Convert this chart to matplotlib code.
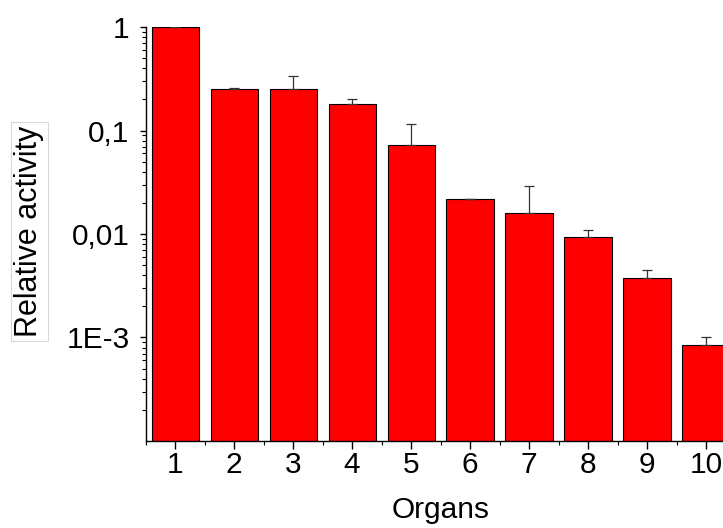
import numpy as np
import matplotlib
matplotlib.use('Agg')
import matplotlib.pyplot as plt
from matplotlib.ticker import FixedLocator, FixedFormatter, LogLocator, NullFormatter

plt.rcParams['font.family'] = ['Liberation Sans', 'DejaVu Sans']

organs = [1, 2, 3, 4, 5, 6, 7, 8, 9, 10]
activity = [1.0, 0.252, 0.25, 0.179, 0.0729, 0.0216, 0.0158, 0.00929, 0.00373, 0.000851]
activity_err = [0.0, 0.007, 0.084, 0.022, 0.0435, 0.0003, 0.0131, 0.00157, 0.00073, 0.000159]

y_ticks = [1e-3, 1e-2, 1e-1, 1]
y_tick_labels = ['1E-3', '0,01', '0,1', '1']

fig = plt.figure(figsize=(7.23, 5.28), dpi=100)
ax = fig.add_axes([0.2015, 0.1648, 0.8158, 0.784])

lower = np.zeros(len(activity))
ax.bar(organs, activity, width=0.8, color='#ff0000', edgecolor='black',
       linewidth=0.8, zorder=2)
ax.errorbar(organs, activity, yerr=[lower, activity_err], fmt='none',
            ecolor='#333333', elinewidth=0.9, capsize=3.4, capthick=0.9,
            zorder=3)

ax.set_yscale('log')
ax.set_ylim(1e-4, 1)
ax.set_xlim(0.5, 10.5)

ax.yaxis.set_major_locator(FixedLocator(y_ticks))
ax.yaxis.set_major_formatter(FixedFormatter(y_tick_labels))
ax.yaxis.set_minor_locator(LogLocator(base=10, subs=np.arange(2, 10)))
ax.yaxis.set_minor_formatter(NullFormatter())

ax.set_xticks(organs)
ax.set_xticks(np.arange(0.5, 11, 1.0), minor=True)

for side in ['top', 'right']:
    ax.spines[side].set_visible(False)
for side in ['left', 'bottom']:
    ax.spines[side].set_linewidth(1.0)

ax.tick_params(axis='y', which='major', direction='out', length=4.5, width=1.0,
               labelsize=21.5, pad=7)
ax.tick_params(axis='y', which='minor', direction='out', length=3, width=0.8)
ax.tick_params(axis='x', which='major', direction='out', length=5.5, width=1.0,
               labelsize=21.5, pad=1.5)
ax.tick_params(axis='x', which='minor', direction='out', length=3, width=0.8)

ax.set_xlabel('Organs', fontsize=21.5, labelpad=12.5)
ax.set_ylabel('Relative activity', fontsize=22,
              bbox=dict(boxstyle='square,pad=0.12', fc='white',
                        ec='#d8d8d8', lw=0.8))
ax.yaxis.set_label_coords(-0.172, 0.506)

fig.savefig('out.png', dpi=100)
